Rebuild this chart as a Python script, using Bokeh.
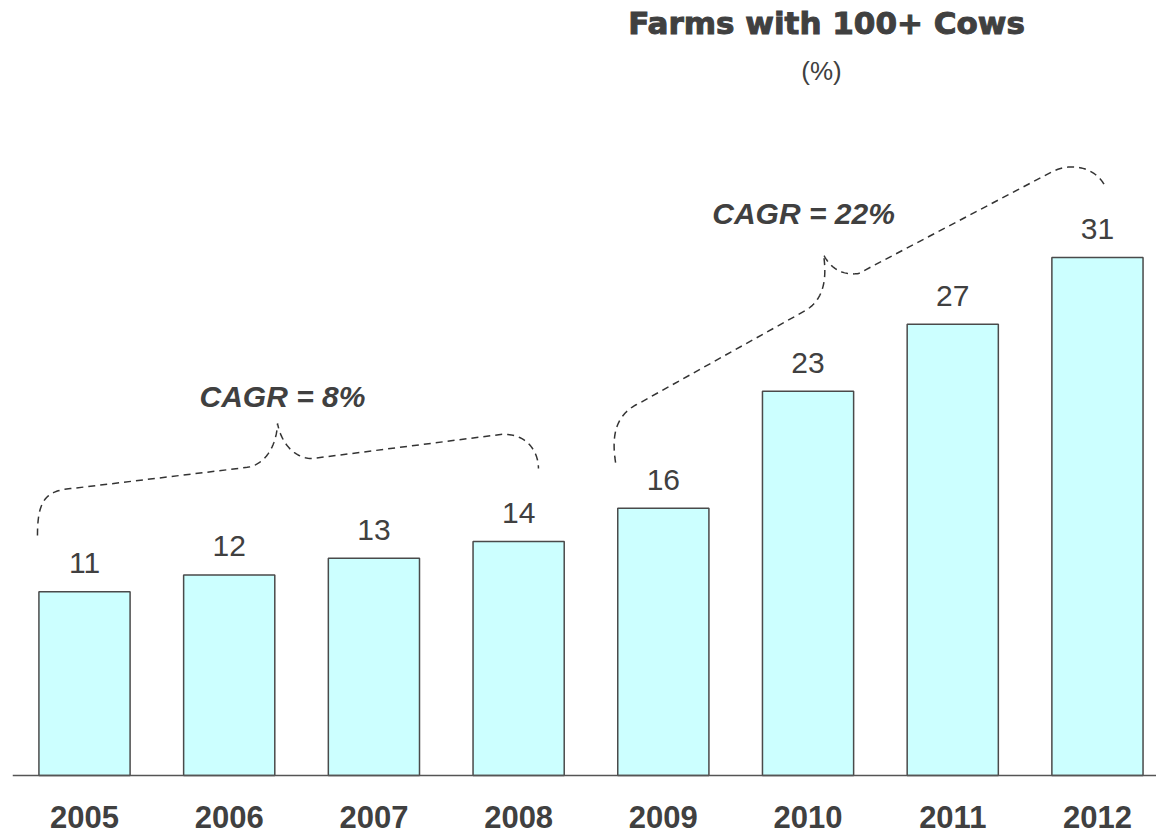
import numpy as np
from bokeh.plotting import figure
from bokeh.models import ColumnDataSource, Range1d, Span
from bokeh.core.properties import value
from bokeh.embed import file_html
from bokeh.resources import INLINE

# ---- data ----
years = ["2005", "2006", "2007", "2008", "2009", "2010", "2011", "2012"]
share = [11, 12, 13, 14, 16, 23, 27, 31]
value_labels = [str(v) for v in share]

cagr_text = ["CAGR = 8%", "CAGR = 22%"]
cagr_x = [1.368, 4.969]
cagr_y = [22.71, 33.66]

# brace nodes: cubic, line, cubic, cubic(tip), line, cubic
brace1_x = [-0.325, -0.325, -0.270, -0.083, 1.113, 1.251, 1.327, 1.334,
            1.355, 1.437, 1.576, 2.875, 3.048, 3.137, 3.137]
brace1_y = [14.36, 16.46, 17.06, 17.18, 18.43, 18.55, 19.75, 21.07,
            20.05, 18.97, 18.97, 20.41, 20.53, 19.45, 18.37]
brace2_x = [3.670, 3.635, 3.690, 3.842, 4.983, 5.121, 5.128, 5.107,
            5.155, 5.238, 5.349, 6.690, 6.849, 7.008, 7.056]
brace2_y = [18.73, 20.65, 21.72, 22.32, 27.83, 28.55, 29.92, 31.18,
            30.34, 29.92, 30.04, 36.15, 36.80, 36.20, 35.19]

TEXT = "#404040"
FONT = "Liberation Sans"

xs = list(range(len(years)))

p = figure(width=1156, height=834, output_backend="svg", toolbar_location=None,
           x_range=Range1d(-0.4976, 7.408), y_range=Range1d(-3.53, 46.38),
           x_axis_location=None, y_axis_location=None,
           min_border_left=12, min_border_right=0, min_border_top=0, min_border_bottom=0)
p.outline_line_color = None
p.grid.visible = False
p.background_fill_color = "white"
p.border_fill_color = "white"

src = ColumnDataSource(dict(x=xs, top=share, label=value_labels, year=years))

p.vbar(x="x", top="top", bottom=0, width=0.63, source=src,
       fill_color="#CCFFFF", line_color="#4a4a4a", line_width=1.5)

p.add_layout(Span(location=0, dimension="width", line_color="#555555", line_width=1.5))

p.text(x="x", y="top", text="label", source=src, text_align="center",
       text_baseline="alphabetic", y_offset=-28.5, text_font=value(FONT),
       text_font_size="30px", text_color=TEXT)

p.text(x="x", y=0, text="year", source=src, text_align="center",
       text_baseline="alphabetic", y_offset=41, text_font=value(FONT),
       text_font_size="31px", text_font_style="bold", text_color=TEXT)

p.text(x=cagr_x, y=cagr_y, text=cagr_text, text_align="center",
       text_baseline="alphabetic", text_font=value(FONT), text_font_size="30px",
       text_font_style="bold italic", text_color=TEXT)


def cubic(p0, p1, p2, p3, n=40):
    t = np.linspace(0, 1, n)
    return ((1 - t) ** 3) * p0 + 3 * ((1 - t) ** 2) * t * p1 + 3 * (1 - t) * t ** 2 * p2 + t ** 3 * p3


def brace(bx, by):
    bx = np.array(bx)
    by = np.array(by)
    px, py = [], []
    px += list(cubic(*bx[0:4])); py += list(cubic(*by[0:4]))
    px += [bx[4]]; py += [by[4]]
    px += list(cubic(*bx[4:8])); py += list(cubic(*by[4:8]))
    px += list(cubic(*bx[7:11])); py += list(cubic(*by[7:11]))
    px += [bx[11]]; py += [by[11]]
    px += list(cubic(*bx[11:15])); py += list(cubic(*by[11:15]))
    return px, py


for bx, by in [(brace1_x, brace1_y), (brace2_x, brace2_y)]:
    lx, ly = brace(bx, by)
    p.line(lx, ly, line_color="#333333", line_width=1.5, line_dash="7 5")

p.text(x=[5.128], y=[45.04], text=["Farms with 100+ Cows"], text_align="center",
       text_baseline="alphabetic", text_font=value("DejaVu Sans"), text_font_size="31px",
       text_font_style="bold", text_color=TEXT, text_outline_color=TEXT)
p.text(x=[5.093], y=[42.14], text=["(%)"], text_align="center",
       text_baseline="alphabetic", text_font=value(FONT), text_font_size="26px",
       text_color=TEXT)

open("out.html", "w").write(file_html(p, INLINE))
